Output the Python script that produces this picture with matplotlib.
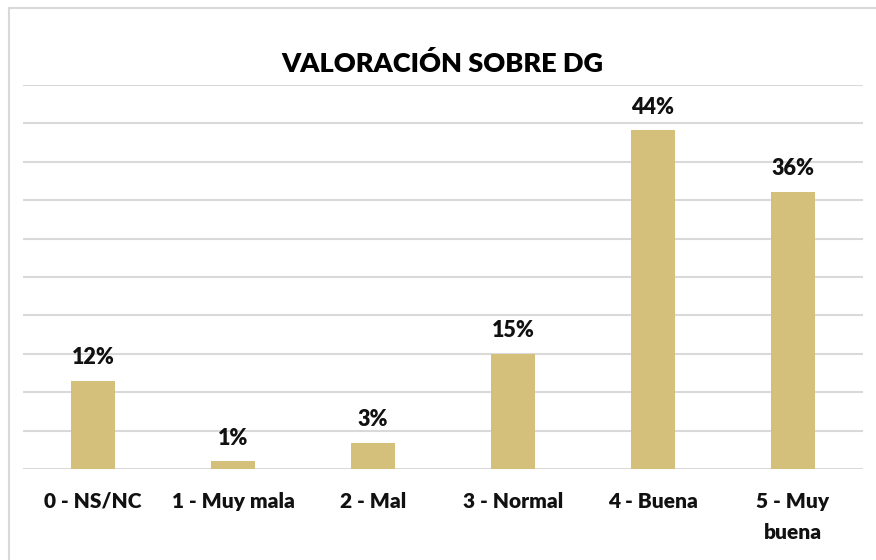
import numpy as np
import matplotlib.pyplot as plt
from matplotlib.lines import Line2D

# Data (bar heights estimated, labels as printed)
categories = ['0 - NS/NC', '1 - Muy mala', '2 - Mal', '3 - Normal', '4 - Buena', '5 - Muy\nbuena']
values = [11.5, 1.0, 3.4, 15.0, 44.1, 36.1]
labels = ['12%', '1%', '3%', '15%', '44%', '36%']

bar_color = '#D4C07A'
grid_color = '#D9D9D9'

plt.rcParams['font.family'] = ['Lato', 'DejaVu Sans']

fig = plt.figure(figsize=(8.76, 5.6), dpi=100)
ax = fig.add_axes([0.0263, 0.1625, 0.9589, 0.6857])

x = np.arange(len(categories))
bars = ax.bar(x, values, width=0.31, color=bar_color, zorder=3)

ax.set_xlim(-0.5, len(categories) - 0.5)
ax.set_ylim(0, 50)
ax.set_yticks(np.arange(0, 51, 5))
ax.yaxis.grid(True, color=grid_color, linewidth=1.5, zorder=0)
ax.tick_params(axis='y', left=False, labelleft=False)
ax.tick_params(axis='x', bottom=False, pad=13)
ax.set_xticks(x)
ax.set_xticklabels(categories, fontsize=15, fontweight='heavy', color='#111111',
                   linespacing=1.75, va='top')
for s in ax.spines.values():
    s.set_visible(False)

for rect, lab in zip(bars, labels):
    ax.annotate(lab, (rect.get_x() + rect.get_width() / 2, rect.get_height()),
                xytext=(0, 9), textcoords='offset points', ha='center', va='bottom',
                fontsize=15.5, fontweight='heavy', color='#111111')

fig.text(0.505, 0.886, 'VALORACIÓN SOBRE DG', ha='center', va='center',
         fontsize=19.5, fontweight='heavy', color='black')

# chart border (top and left edges visible)
fig.add_artist(Line2D([8.5 / 876, 1.0], [1 - 7.5 / 560, 1 - 7.5 / 560],
                      transform=fig.transFigure, color='#D9D9D9', linewidth=1.5))
fig.add_artist(Line2D([8.5 / 876, 8.5 / 876], [0, 1 - 7.5 / 560],
                      transform=fig.transFigure, color='#D9D9D9', linewidth=1.5))

fig.savefig('out.png', dpi=100)
